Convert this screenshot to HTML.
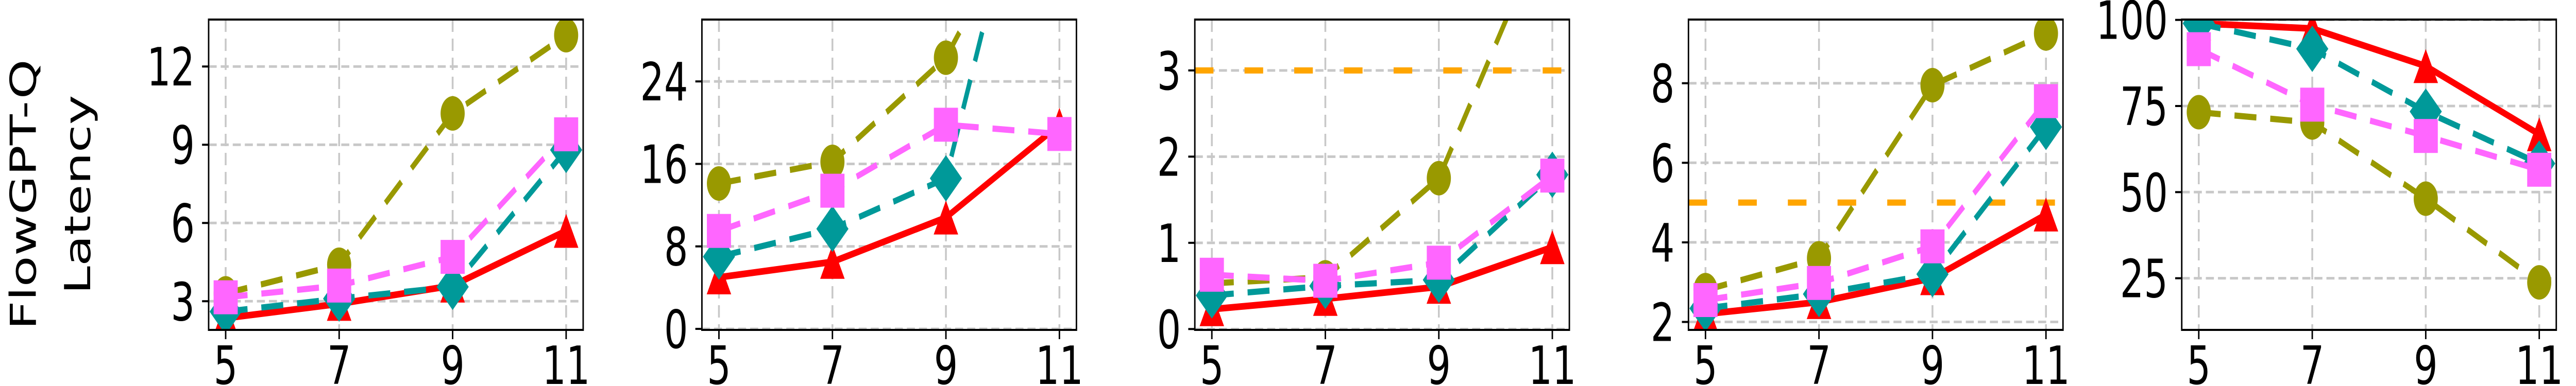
<!DOCTYPE html>
<html><head><meta charset="utf-8"><style>
html,body{margin:0;padding:0;background:#fff;width:100vw;height:100vh;overflow:hidden;}
svg{display:block;width:100vw;height:100vh;overflow:hidden;}
text{font-family:"DejaVu Sans","Liberation Sans",sans-serif;fill:#000;}
</style></head>
<body>
<svg id="chart" viewBox="0 0 7050 750" preserveAspectRatio="none" xmlns="http://www.w3.org/2000/svg">
<text transform="translate(98,378) rotate(-90)" text-anchor="middle" font-size="98">FlowGPT-Q</text>
<text transform="translate(247,378) rotate(-90)" text-anchor="middle" font-size="98">Latency</text>
</svg>
<script>
const xCategories = [5, 7, 9, 11];
const panelYTicks = [[3,6,9,12],[0,8,16,24],[0,1,2,3],[2,4,6,8],[25,50,75,100]];
const panelYMin = [1.9, -0.1, -0.01, 1.8, 10];
const panelYMax = [13.8, 30, 3.59, 9.6, 100.1];
const panelRefLine = [null, null, 3, 5, null];
const redValues = [[2.35,2.9,3.6,5.7],[5.0,6.5,10.8,19.8],[0.23,0.35,0.49,0.95],[2.2,2.5,3.1,4.7],[99,97.5,86.6,66.8]];
const oliveValues = [[3.3,4.4,10.2,13.2],[14.1,16.2,26.3,47],[0.53,0.6,1.75,4.85],[2.8,3.6,7.95,9.25],[73.2,70.2,48.1,23.8]];
const tealValues = [[2.6,3.1,3.55,8.8],[7.0,9.7,14.6,59],[0.39,0.5,0.57,1.79],[2.34,2.7,3.2,6.9],[99,91.6,73.4,58.3]];
const pinkValues = [[3.15,3.6,4.7,9.4],[9.5,13.4,19.8,18.9],[0.63,0.56,0.77,1.78],[2.55,2.98,3.9,7.55],[91.5,75.4,66.3,56.5]];

const NS = "http://www.w3.org/2000/svg";
const svg = document.getElementById('chart');
const panelLeft = [571, 1921, 3270, 4621, 5971];
const panelW = 1025, TOP = 38, BOTTOM = 641;
const XMIN = 4.7, XMAX = 11.3;
function mk(tag, attrs, parent){const e=document.createElementNS(NS,tag);for(const k in attrs)e.setAttribute(k,attrs[k]);(parent||svg).appendChild(e);return e;}

const defs = mk('defs',{});
for(let p=0;p<5;p++){
  const L = panelLeft[p], R = L + panelW;
  const xs = v => L + (v - XMIN) / (XMAX - XMIN) * panelW;
  const ys = v => BOTTOM - (v - panelYMin[p]) / (panelYMax[p] - panelYMin[p]) * (BOTTOM - TOP);
  const cp = mk('clipPath',{id:'clip'+p},defs);
  mk('rect',{x:L,y:TOP,width:panelW,height:BOTTOM-TOP},cp);
  const g = mk('g',{});
  
  
  const pg = mk('g',{'clip-path':'url(#clip'+p+')'},g);
  xCategories.forEach(c=>{
    const l = mk('line',{x1:xs(c),x2:xs(c),y1:TOP,y2:BOTTOM,stroke:'#c8c8c8','stroke-width':5,'stroke-dasharray':'24 13'},pg);
    
    
  });
  panelYTicks[p].forEach(t=>{
    const l = mk('line',{x1:L,x2:R,y1:ys(t),y2:ys(t),stroke:'#c8c8c8','stroke-width':5,'stroke-dasharray':'22 11'},pg);
    
    
  });
  if(panelRefLine[p]!==null){
    const l = mk('line',{x1:L,x2:R,y1:ys(panelRefLine[p]),y2:ys(panelRefLine[p]),stroke:'#ffa500','stroke-width':12,'stroke-dasharray':'51 85'},pg);
    
    
  }
  const series = [
    {vals:redValues[p],color:'#ff0000',dash:null,marker:'tri',name:'red'},
    {vals:oliveValues[p],color:'#999900',dash:'60 38',marker:'circle',name:'olive'},
    {vals:tealValues[p],color:'#009999',dash:'60 38',marker:'diamond',name:'teal'},
    {vals:pinkValues[p],color:'#ff66ff',dash:'60 38',marker:'square',name:'pink'}
  ];
  series.forEach(s=>{
    const pts = s.vals.map((v,i)=>xs(xCategories[i])+','+ys(v)).join(' ');
    const a = {points:pts,fill:'none',stroke:s.color,'stroke-width':s.dash?12:13,'stroke-linejoin':'round'};
    if(s.dash) a['stroke-dasharray']=s.dash;
    const pl = mk('polyline',a,pg);
    
    
    s.vals.forEach((v,i)=>{
      const cx = xs(xCategories[i]), cy = ys(v);
      let m;
      if(s.marker==='tri') m = mk('polygon',{points:`${cx},${cy-33} ${cx-33.5},${cy+33} ${cx+33.5},${cy+33}`,fill:s.color},pg);
      else if(s.marker==='circle') m = mk('ellipse',{cx:cx,cy:cy,rx:33,ry:33.5,fill:s.color},pg);
      else if(s.marker==='diamond') m = mk('polygon',{points:`${cx},${cy-45} ${cx+44},${cy} ${cx},${cy+45} ${cx-44},${cy}`,fill:s.color},pg);
      else m = mk('rect',{x:cx-33,y:cy-33,width:66,height:66,fill:s.color},pg);
      
      
    });
  });
  const fr = mk('rect',{x:L,y:TOP,width:panelW,height:BOTTOM-TOP,fill:'none',stroke:'#000','stroke-width':4},g);
  
  
  xCategories.forEach(c=>{
    mk('line',{x1:xs(c),x2:xs(c),y1:BOTTOM,y2:BOTTOM+18,stroke:'#000','stroke-width':4},g);
    const t = mk('text',{x:xs(c),y:746,'text-anchor':'middle','font-size':103},g);
    t.textContent = c;
    
    
  });
  panelYTicks[p].forEach(v=>{
    mk('line',{x1:L-18,x2:L,y1:ys(v),y2:ys(v),stroke:'#000','stroke-width':4},g);
    const t = mk('text',{x:L-38,y:ys(v)+37,'text-anchor':'end','font-size':103},g);
    t.textContent = v;
    
    
  });
}
</script>
</body></html>
